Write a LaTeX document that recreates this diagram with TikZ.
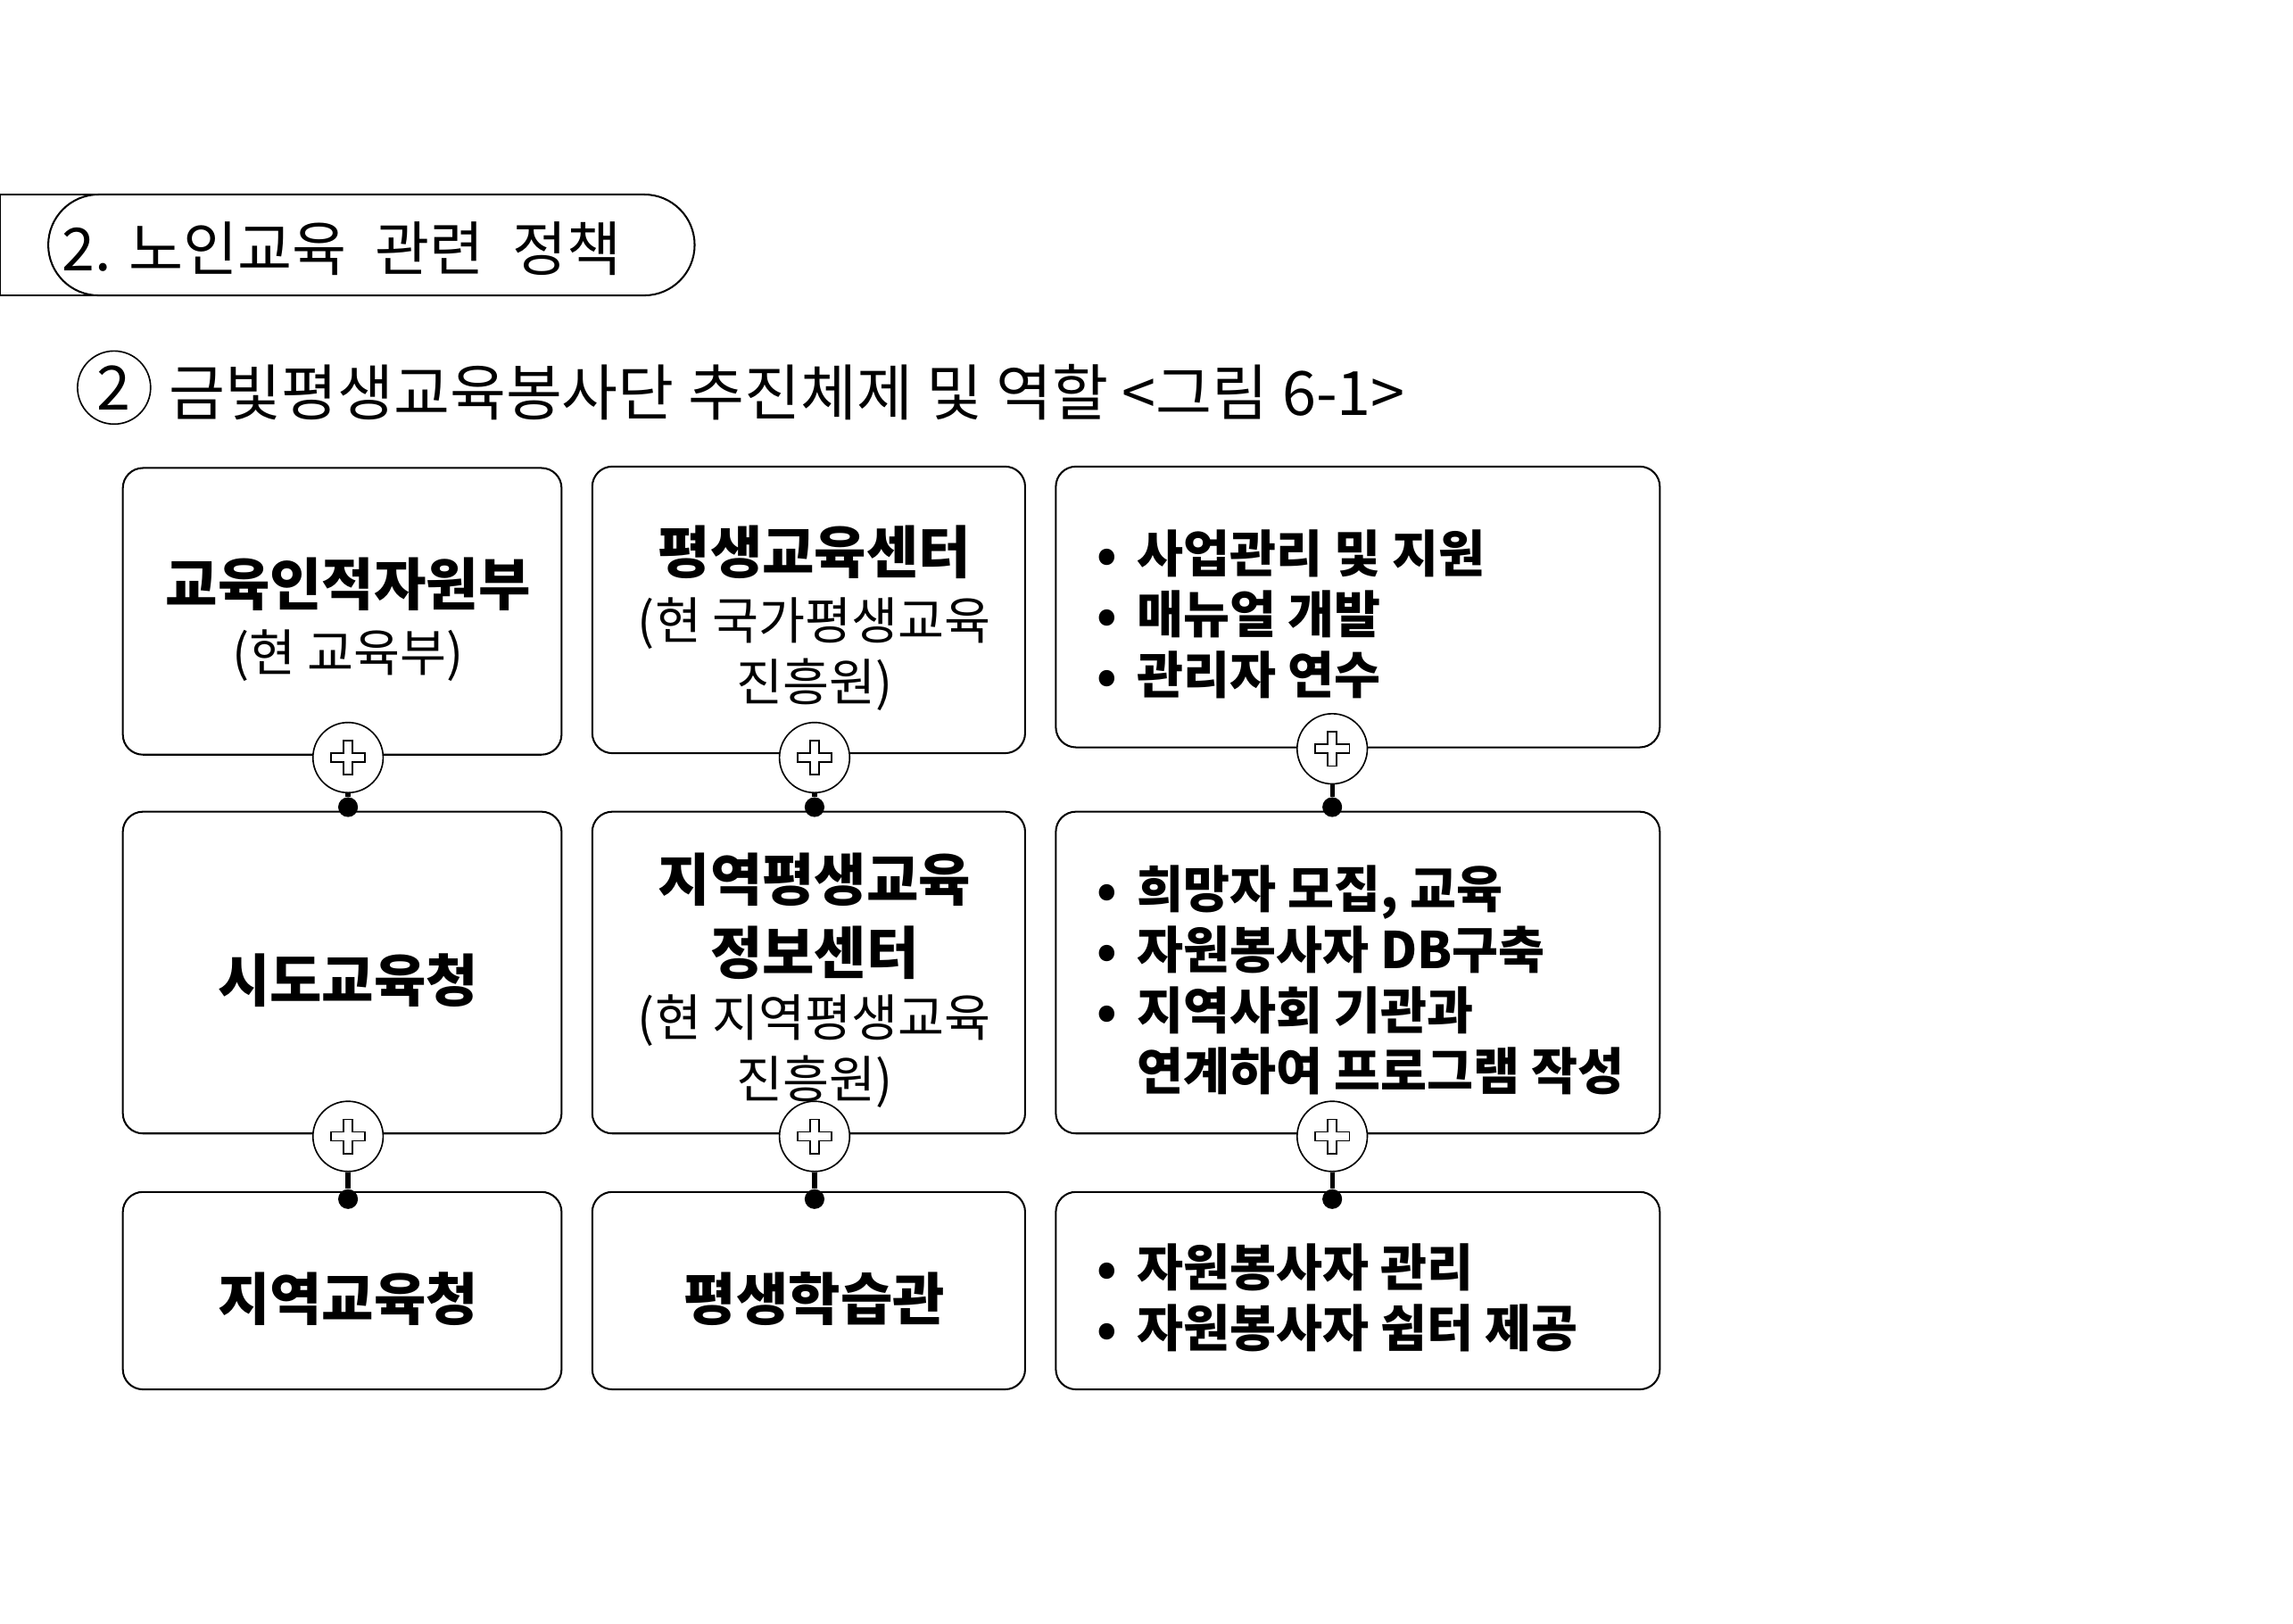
\documentclass[tikz,border=0pt]{standalone}
\usepackage{fontspec}
\setmainfont{Noto Sans CJK KR}
\usepackage{tikz}
\usetikzlibrary{positioning,calc}
\tikzstyle{block} = [rectangle,rounded corners=5.5pt,draw=black,line width=0.5pt,fill=white,inner sep=0pt]
\tikzstyle{boxtext} = [align=center,inner sep=0pt,yshift=-2.2pt,font=\fontsize{13.8}{16.8}\selectfont]
\tikzstyle{list} = [align=left,anchor=west,inner sep=0pt,yshift=-2pt,font=\bfseries\fontsize{13.8}{16.6}\selectfont]
\tikzstyle{plus} = [circle,draw=black,line width=0.4pt,fill=white,minimum size=19.2pt,inner sep=0pt]
\tikzstyle{dot} = [circle,fill=black,minimum size=5.4pt,inner sep=0pt]
\tikzstyle{link} = [line width=1.3pt]
\newcommand{\crossmark}[1]{\draw[line width=0.4pt,fill=white,shift={(#1.center)}]
  (-11.7,-3.1) -- (-3.1,-3.1) -- (-3.1,-11.7) -- (3.1,-11.7) -- (3.1,-3.1) -- (11.7,-3.1)
  -- (11.7,3.1) -- (3.1,3.1) -- (3.1,11.7) -- (-3.1,11.7) -- (-3.1,3.1) -- (-11.7,3.1) -- cycle;}
\newcommand{\ttl}[1]{{\bfseries\fontsize{15.5}{18}\selectfont #1}}
\newcommand{\bul}{•\hspace{0.4em}}

\begin{document}
\begin{tikzpicture}[x=0.4pt,y=-0.4pt]
        \useasboundingbox (0,0) rectangle (1568,1110);
        % title tab
        \draw[line width=0.5pt] (0,133) rectangle (100,202);
        \node[draw,line width=0.5pt,fill=white,rounded corners=13.8pt,minimum width=176.8pt,minimum height=27.6pt,inner sep=0pt] (tab) at (254,167.5) {};
        \node[anchor=west,inner sep=0pt,font=\fontsize{16.2}{16.2}\selectfont] (tabtext) at (42,170) {2. 노인교육\hspace{0.25em} 관련\hspace{0.25em} 정책};
        % heading
        \node[circle,draw,line width=0.4pt,minimum size=20pt,inner sep=0pt,font=\fontsize{16.7}{16.7}\selectfont] (num) at (78,265) {2};
        \node[anchor=west,inner sep=0pt,font=\fontsize{16.7}{16.7}\selectfont] (head) at (115,268) {금빛평생교육봉사단 추진체제 및 역할 <그림 6-1>};
        % boxes
        \node[block,minimum width=120pt,minimum height=78.4pt] (b11) at (234,418) {};
        \node[block,minimum width=118.4pt,minimum height=78.4pt] (b12) at (553,417) {};
        \node[block,minimum width=165.2pt,minimum height=76.8pt] (b13) at (928.5,415) {};
        \node[block,minimum width=120pt,minimum height=88pt] (b21) at (234,665) {};
        \node[block,minimum width=118.4pt,minimum height=88pt] (b22) at (553,665) {};
        \node[block,minimum width=165.2pt,minimum height=88pt] (b23) at (928.5,665) {};
        \node[block,minimum width=120pt,minimum height=54pt] (b31) at (234,882.5) {};
        \node[block,minimum width=118.4pt,minimum height=54pt] (b32) at (553,882.5) {};
        \node[block,minimum width=165.2pt,minimum height=54pt] (b33) at (928.5,882.5) {};
        % joints
        \node[plus] (p11) at (238,518) {}; \crossmark{p11}
        \node[plus] (p12) at (557,518) {}; \crossmark{p12}
        \node[plus] (p13) at (911,512) {}; \crossmark{p13}
        \node[plus] (p21) at (238,777) {}; \crossmark{p21}
        \node[plus] (p22) at (557,777) {}; \crossmark{p22}
        \node[plus] (p23) at (911,777) {}; \crossmark{p23}
        \node[dot,yshift=1pt] (d11) at (p11 |- b21.north) {};
        \node[dot,yshift=1pt] (d12) at (p12 |- b22.north) {};
        \node[dot,yshift=1pt] (d13) at (p13 |- b23.north) {};
        \node[dot,yshift=-2.2pt] (d21) at (p21 |- b31.north) {};
        \node[dot,yshift=-2.2pt] (d22) at (p22 |- b32.north) {};
        \node[dot,yshift=-2.2pt] (d23) at (p23 |- b33.north) {};
        \draw[link] (p11) -- (d11);
        \draw[link] (p12) -- (d12);
        \draw[link] (p13) -- (d13);
        \draw[link] (p21) -- (d21);
        \draw[link] (p22) -- (d22);
        \draw[link] (p23) -- (d23);
        % texts
        \node[boxtext] (t11) at (p11 |- b11) {\ttl{교육인적자원부}\\[1.2pt] (현 교육부)};
        \node[boxtext] (t12) at (p12 |- b12) {\ttl{평생교육센터}\\[1.2pt] (현 국가평생교육\\ 진흥원)};
        \node[list] (t13) at ([xshift=11.2pt]b13.west) {\bul 사업관리 및 지원\\ \bul 매뉴얼 개발\\ \bul 관리자 연수};
        \node[boxtext] (t21) at (p11 |- b21) {\ttl{시도교육청}};
        \node[boxtext] (t22) at (p12 |- b22) {\ttl{지역평생교육}\\[3.2pt] \ttl{정보센터}\\[0.4pt] (현 지역평생교육\\ 진흥원)};
        \node[list] (t23) at ([xshift=11.2pt]b23.west) {\bul 희망자 모집, 교육\\ \bul 자원봉사자 DB구축\\ \bul 지역사회 기관과\\ \phantom{\bul}연계하여 프로그램 작성};
        \node[boxtext] (t31) at (p21 |- b31) {\ttl{지역교육청}};
        \node[boxtext] (t32) at (p22 |- b32) {\ttl{평생학습관}};
        \node[list] (t33) at ([xshift=11.2pt]b33.west) {\bul 자원봉사자 관리\\ \bul 자원봉사자 쉼터 제공};
\end{tikzpicture}
\end{document}
